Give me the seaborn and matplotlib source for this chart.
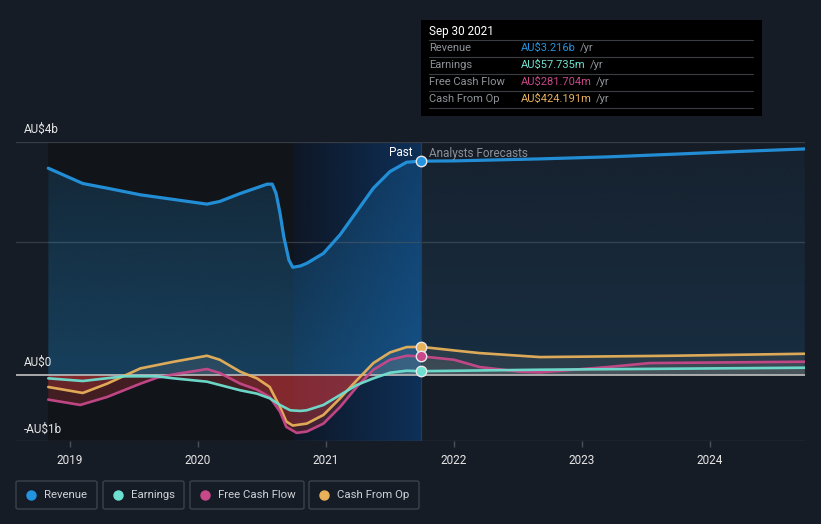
import numpy as np
import pandas as pd
import matplotlib
matplotlib.use("Agg")
import matplotlib.pyplot as plt
import seaborn as sns
from matplotlib.patches import Rectangle, FancyBboxPatch
from matplotlib.colors import LinearSegmentedColormap
from matplotlib.lines import Line2D

# ---------------- data (AU$ billions, fractional years) ----------------
rev_x = [2018.83, 2019.10, 2019.29, 2019.55, 2019.81, 2020.07, 2020.17, 2020.33, 2020.54,
         2020.58, 2020.61, 2020.64, 2020.67, 2020.71, 2020.74, 2020.80, 2020.85, 2020.98,
         2021.11, 2021.24, 2021.37, 2021.50, 2021.63, 2021.74,
         2022.00, 2022.67, 2023.20, 2023.71, 2024.20, 2024.74]
rev_y = [3.11, 2.88, 2.81, 2.71, 2.64, 2.57, 2.61, 2.73, 2.87,
         2.87, 2.73, 2.44, 2.08, 1.73, 1.62, 1.64, 1.68, 1.83,
         2.11, 2.46, 2.81, 3.06, 3.20, 3.216,
         3.22, 3.25, 3.28, 3.32, 3.36, 3.40]

cfo_x = [2018.83, 2019.10, 2019.29, 2019.55, 2019.81, 2020.07, 2020.17, 2020.33, 2020.46,
         2020.56, 2020.64, 2020.69, 2020.74, 2020.85, 2020.98, 2021.11, 2021.24, 2021.37,
         2021.50, 2021.63, 2021.74, 2022.00, 2022.20, 2022.67, 2023.71, 2024.74]
cfo_y = [-0.18, -0.27, -0.13, 0.10, 0.20, 0.29, 0.23, 0.05, -0.05,
         -0.18, -0.48, -0.70, -0.76, -0.73, -0.60, -0.35, -0.08, 0.18,
         0.34, 0.42, 0.424, 0.37, 0.33, 0.27, 0.29, 0.32]

fcf_x = [2018.83, 2019.08, 2019.29, 2019.55, 2019.68, 2019.81, 2020.07, 2020.17, 2020.33,
         2020.46, 2020.56, 2020.64, 2020.69, 2020.77, 2020.85, 2020.98, 2021.11, 2021.24,
         2021.37, 2021.50, 2021.63, 2021.74, 2022.00, 2022.20, 2022.52, 2022.67, 2023.20,
         2023.53, 2024.74]
fcf_y = [-0.37, -0.45, -0.33, -0.13, -0.04, 0.01, 0.09, 0.03, -0.13,
         -0.22, -0.33, -0.55, -0.78, -0.87, -0.85, -0.73, -0.48, -0.18,
         0.08, 0.23, 0.29, 0.282, 0.23, 0.12, 0.05, 0.04, 0.12,
         0.18, 0.20]

ern_x = [2018.83, 2019.10, 2019.42, 2019.68, 2019.81, 2020.07, 2020.33, 2020.46, 2020.56,
         2020.64, 2020.72, 2020.80, 2020.85, 2020.98, 2021.11, 2021.24, 2021.37, 2021.50,
         2021.63, 2021.74, 2022.67, 2024.74]
ern_y = [-0.05, -0.09, -0.02, -0.02, -0.05, -0.10, -0.23, -0.28, -0.35,
         -0.45, -0.53, -0.54, -0.53, -0.45, -0.30, -0.15, -0.05, 0.035,
         0.065, 0.0577, 0.08, 0.11]

series_names = ["Revenue", "Earnings", "Free Cash Flow", "Cash From Op"]
series_colors = ["#2394df", "#6ee0d0", "#c8488a", "#e8b15a"]
tooltip_date = "Sep 30 2021"
tooltip_values = ["AU$3.216b", "AU$57.735m", "AU$281.704m", "AU$424.191m"]
year_ticks = [2019, 2020, 2021, 2022, 2023, 2024]
y_labels = ["AU$4b", "AU$0", "-AU$1b"]
now_x = 2021.74
highlight_start = 2020.75

# ---------------- style ----------------
BG = "#161c26"
W, H = 821, 524
sns.set_theme(style="dark")
plt.rcParams["font.family"] = ["Roboto", "DejaVu Sans"]

fig = plt.figure(figsize=(W / 100, H / 100), dpi=100, facecolor=BG)
ax = fig.add_axes([16 / W, (H - 441) / H, (805 - 16) / W, (441 - 142) / H])
ax.set_facecolor(BG)
XMIN, XMAX = 2018.578, 2024.742
YMIN, YMAX = -0.992, 3.504

def fx(px):
    return px / W

def fy(py):
    return 1 - py / H

# past dark region & highlight gradient
ax.axvspan(rev_x[0], highlight_start, color="#111419", zorder=0, lw=0)
cmap = LinearSegmentedColormap.from_list("hl", ["#0e1726", "#0e3058"])
grad = np.linspace(0, 1, 256).reshape(1, -1)
ax.imshow(grad, extent=[highlight_start, now_x, YMIN, YMAX], aspect="auto",
          cmap=cmap, zorder=0.5, interpolation="bicubic")

# gridlines
for gy in [2.0, YMAX - 0.004]:
    ax.axhline(gy, color="#363c45", lw=0.9, zorder=1)
ax.axhline(YMIN + 0.004, color="#3a4049", lw=1.0, zorder=1)

# revenue fill with vertical gradient (stronger in the past part)
poly = ax.fill_between(rev_x, rev_y, 0, color="none", lw=0, zorder=1.5)
clip = poly.get_paths()[0]
for (x0, x1), (a_top, a_bot) in [((XMIN, now_x), (0.34, 0.15)),
                                  ((now_x, XMAX), (0.15, 0.05))]:
    rgba = np.zeros((256, 1, 4))
    rgba[..., 0] = 0x23 / 255
    rgba[..., 1] = 0x94 / 255
    rgba[..., 2] = 0xdf / 255
    rgba[:, 0, 3] = np.linspace(a_top, a_bot, 256)
    im = ax.imshow(rgba, extent=[x0, x1, max(rev_y), 0], aspect="auto",
                   zorder=1.5, interpolation="bicubic", origin="upper")
    im.set_clip_path(clip, transform=ax.transData)

# other fills
for xs, ys in [(cfo_x, cfo_y), (fcf_x, fcf_y), (ern_x, ern_y)]:
    xa = np.array(xs)
    ya = np.array(ys)
    ax.fill_between(xa, ya, 0, where=ya >= 0, interpolate=True, color="#9a9488",
                    alpha=0.15, lw=0, zorder=2)
    ax.fill_between(xa, ya, 0, where=ya <= 0, interpolate=True, color="#d83a40",
                    alpha=0.25, lw=0, zorder=2)

ax.axhline(0, color="#b4b4b4", lw=1.3, zorder=3)

# lines via seaborn
frames = []
for name, xs, ys in [("Revenue", rev_x, rev_y), ("Earnings", ern_x, ern_y),
                     ("Free Cash Flow", fcf_x, fcf_y), ("Cash From Op", cfo_x, cfo_y)]:
    frames.append(pd.DataFrame({"x": xs, "y": ys, "series": name}))
df = pd.concat(frames, ignore_index=True)
palette = dict(zip(series_names, series_colors))
for name in series_names[::-1]:
    sub = df[df.series == name]
    lw = 2.3 if name == "Revenue" else 1.9
    sns.lineplot(data=sub, x="x", y="y", color=palette[name], lw=lw, ax=ax,
                 zorder=4, legend=False, sort=False, estimator=None, alpha=0.95)
    line = ax.get_lines()[-1]
    line.set_solid_joinstyle("round")
    line.set_solid_capstyle("round")
    yv = sub[np.isclose(sub.x, now_x)].y.values[0]
    ax.plot([now_x], [yv], "o", ms=7.5, mfc=palette[name], mec="#e8e8e8",
            mew=1.0, zorder=6)

ax.axvline(now_x, color="#2a3a50", lw=0.9, zorder=3.5)

ax.set_xlim(XMIN, XMAX)
ax.set_ylim(YMIN, YMAX)
ax.set_xticks(year_ticks)
ax.set_xticklabels([str(t) for t in year_ticks], color="#e6e6e6", fontsize=8.5)
ax.tick_params(axis="x", length=4, width=1, color="#4a5058", pad=5, bottom=True)
ax.set_yticks([])
ax.set_xlabel("")
ax.set_ylabel("")
for s in ax.spines.values():
    s.set_visible(False)
ax.grid(False)

# y labels
for lab, py in zip(y_labels, [129, 362, 429]):
    fig.text(fx(24), fy(py), lab, color="#e6e6e6", fontsize=8.5, va="center", ha="left")

# Past / Analysts Forecasts
fig.text(fx(413), fy(153), "Past", color="#ffffff", fontsize=8.5, va="center", ha="right")
fig.text(fx(429), fy(153), "Analysts Forecasts", color="#8b9098", fontsize=8.5,
         va="center", ha="left")

# tooltip
fig.patches.append(Rectangle((fx(421), fy(116)), (762 - 421) / W, (116 - 20) / H,
                             transform=fig.transFigure, facecolor="#000000",
                             edgecolor="none", zorder=10))
fig.text(fx(429), fy(31), tooltip_date, color="#ffffff", fontsize=8.5,
         va="center", ha="left", zorder=11)
for ly in [40, 57, 74, 91, 108]:
    fig.add_artist(Line2D([fx(429), fx(753)], [fy(ly), fy(ly)], color="#3a3d42",
                          lw=0.8, transform=fig.transFigure, zorder=11))
fig.canvas.draw()
renderer = fig.canvas.get_renderer()
for i, (name, val, col) in enumerate(zip(series_names, tooltip_values, series_colors)):
    py = 48 + i * 17
    fig.text(fx(429), fy(py), name, color="#8e9399", fontsize=8, va="center",
             ha="left", zorder=11)
    t = fig.text(fx(521), fy(py), val, color=col, fontsize=8, va="center",
                 ha="left", zorder=11)
    bb = t.get_window_extent(renderer=renderer)
    fig.text(bb.x1 / W + fx(4), fy(py), "/yr", color="#8e9399", fontsize=8,
             va="center", ha="left", zorder=11)

# legend boxes
boxes = [(16, 97), (103, 184), (190, 304), (309, 419)]
for (x0, x1), name, col in zip(boxes, series_names, series_colors):
    fig.patches.append(FancyBboxPatch((fx(x0), fy(509)), (x1 - x0) / W, 28 / H,
                                      boxstyle="round,pad=0,rounding_size=0.003",
                                      transform=fig.transFigure, facecolor="none",
                                      edgecolor="#3c424b", lw=1.0))
    fig.add_artist(Line2D([fx(x0 + 15)], [fy(495)], marker="o", ms=6.5, mfc=col,
                          mec=col, transform=fig.transFigure, lw=0))
    fig.text(fx(x0 + 28), fy(495), name, color="#cfd2d6", fontsize=8.2,
             va="center", ha="left")

fig.savefig("out.png", dpi=100, facecolor=BG)
